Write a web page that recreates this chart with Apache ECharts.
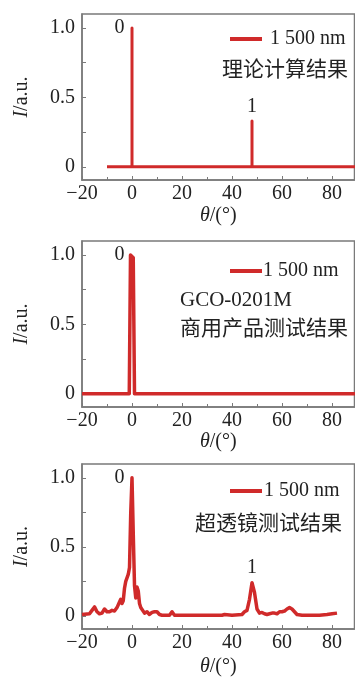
<!DOCTYPE html>
<html>
<head>
<meta charset="utf-8">
<script src="https://cdn.jsdelivr.net/npm/echarts@6/dist/echarts.min.js"></script>
<style>html,body{margin:0;padding:0;background:#fff}#c{width:355px;height:679px}</style>
</head>
<body>
<div id="c"></div>
<script>
// Panel 1: theoretical
var theta1 = [-10, 0, 0, 0, 48, 48, 48, 90];
var inten1 = [0, 0, 1.0, 0, 0, 0.33, 0, 0];
// Panel 2: commercial product GCO-0201M
var theta2 = [-20, -1.1, -0.6, 0, 0.5, 1.0, 90];
var inten2 = [0, 0, 1.0, 1.0, 0.98, 0, 0];
// Panel 3: metalens measurement
var theta3 = [-20,-17,-16,-15,-14,-13,-12,-11,-10,-9,-8,-7,-6,-5,-4.5,-4,-3.5,-3,-2.5,-2,-1.5,-1,-0.5,0,0.5,1,1.5,2,2.5,3,3.5,4,5,6,7,8,9,10,11,12,15,16,17,20,30,36,37,40,44,45,46,47,48,49,50,51,52,53,54,55,56,57,58,59,60,61,62,63,64,65,66,68,75,78,80,82];
var inten3 = [0.01,0.015,0.04,0.065,0.03,0.015,0.02,0.05,0.03,0.03,0.04,0.035,0.06,0.1,0.12,0.09,0.11,0.2,0.25,0.26,0.3,0.35,0.75,1.0,0.6,0.22,0.13,0.21,0.18,0.09,0.06,0.07,0.02,0.03,0.01,0.025,0.03,0.03,0.01,0.005,0.005,0.03,0.005,0.005,0.005,0.005,0.01,0.005,0.01,0.03,0.04,0.12,0.24,0.17,0.05,0.02,0.025,0.015,0.01,0.015,0.02,0.02,0.015,0.03,0.03,0.035,0.05,0.06,0.05,0.03,0.01,0.005,0.005,0.01,0.015,0.02];

var seriesName = '1 500 nm';
var xTicks = {min: -20, max: 89, interval: 20};
var yLabelValues = [0, 0.5, 1.0];
var yTickValues = [0, 0.25, 0.5, 0.75, 1.0];
var peakLabels = [
  [{t: '0', x: 0, y: 1.0, pos: 'left'}, {t: '1', x: 48, y: 0.33, pos: 'top'}],
  [{t: '0', x: 0, y: 1.0, pos: 'left'}],
  [{t: '0', x: 0, y: 1.0, pos: 'left'}, {t: '1', x: 48, y: 0.24, pos: 'top'}]
];

function zip(a, b) { return a.map(function (v, i) { return [v, b[i]]; }); }

var RED = '#d02a2a';
var GRAY = '#7a7a7a';
var SERIF = '"Liberation Serif", "DejaVu Serif", serif';
var CJK = '"Noto Sans CJK SC", sans-serif';
var FS = 20;

var grids = [
  {top: 14, height: 166, nameGap: 26, lw: 3},
  {top: 241, height: 166, nameGap: 22, lw: 3.5},
  {top: 464, height: 165, nameGap: 28, lw: 3.5}
];
var datas = [zip(theta1, inten1), zip(theta2, inten2), zip(theta3, inten3)];

var option = {
  animation: false,
  backgroundColor: '#fff',
  grid: [], xAxis: [], yAxis: [], series: [], legend: [], title: []
};

grids.forEach(function (g, i) {
  option.grid.push({left: 82, width: 272.5, top: g.top, height: g.height,
    show: true, borderColor: GRAY, borderWidth: 1.5, backgroundColor: 'transparent'});
  option.xAxis.push({
    type: 'value', gridIndex: i, min: xTicks.min, max: xTicks.max, interval: xTicks.interval,
    name: '{i|θ}/(°)', nameLocation: 'middle', nameGap: g.nameGap,
    nameTextStyle: {fontFamily: SERIF, fontSize: FS, color: '#222',
      rich: {i: {fontStyle: 'italic', fontFamily: SERIF, fontSize: FS, color: '#222'}}},
    axisLine: {show: true, onZero: false, lineStyle: {color: GRAY, width: 1.5}},
    axisTick: {show: true, inside: true, length: 4, lineStyle: {color: GRAY}},
    minorTick: {show: true, splitNumber: 2, length: 3, lineStyle: {color: GRAY}},
    splitLine: {show: false},
    axisLabel: {fontFamily: SERIF, fontSize: FS, color: '#222', margin: 4,
      showMaxLabel: false,
      formatter: function (v) { return String(v).replace('-', '\u2212'); }}
  });
  option.yAxis.push({
    type: 'value', gridIndex: i, min: -0.095, max: 1.1,
    name: '{i|I}/a.u.', nameLocation: 'middle', nameGap: 50, nameRotate: 90,
    nameTextStyle: {fontFamily: SERIF, fontSize: FS, color: '#222',
      rich: {i: {fontStyle: 'italic', fontFamily: SERIF, fontSize: FS, color: '#222'}}},
    axisLine: {show: true, onZero: false, lineStyle: {color: GRAY, width: 1.5}},
    axisTick: {show: true, inside: true, length: 4, customValues: yTickValues, lineStyle: {color: GRAY}},
    splitLine: {show: false},
    axisLabel: {fontFamily: SERIF, fontSize: FS, color: '#222', margin: 7,
      customValues: yLabelValues,
      formatter: function (v) { return v === 0 ? '0' : v.toFixed(1); }}
  });
  option.series.push({
    name: seriesName, type: 'line', xAxisIndex: i, yAxisIndex: i,
    data: datas[i], showSymbol: false, symbol: 'none', clip: true,
    lineStyle: {color: RED, width: g.lw, join: 'round'}, itemStyle: {color: RED},
    markPoint: {
      symbol: 'circle', symbolSize: 1, itemStyle: {color: 'transparent'},
      label: {show: true, fontFamily: SERIF, fontSize: FS, color: '#222'},
      data: peakLabels[i].map(function (p) {
        return {coord: [p.x, p.y], value: p.t,
          label: {formatter: p.t, position: p.pos, distance: p.pos === 'left' ? 7 : 4}};
      })
    }
  });
});

var legendTops = [29, 261, 481];
var legendPad = [[0, 0, 0, 3], [0, 0, 0, -4], [0, 0, 0, -3]];
legendTops.forEach(function (t, i) {
  option.legend.push({
    data: [seriesName], left: 230, top: t, padding: 0,
    icon: 'rect', itemWidth: 32, itemHeight: 4,
    textStyle: {fontFamily: SERIF, fontSize: FS, color: '#222', padding: legendPad[i]}
  });
});

var texts = [
  {t: '理论计算结果', left: 222, top: 56, f: CJK, s: 21},
  {t: 'GCO-0201M', left: 180, top: 288, f: SERIF, s: 21},
  {t: '商用产品测试结果', left: 180, top: 315, f: CJK, s: 21},
  {t: '超透镜测试结果', left: 195, top: 510, f: CJK, s: 21}
];
texts.forEach(function (x) {
  option.title.push({text: x.t, left: x.left, top: x.top, padding: 0,
    textStyle: {fontFamily: x.f, fontSize: x.s, fontWeight: 'normal', color: '#222', lineHeight: 24}});
});

var chart = echarts.init(document.getElementById('c'), null, {renderer: 'canvas'});
chart.setOption(option);
</script>
</body>
</html>
